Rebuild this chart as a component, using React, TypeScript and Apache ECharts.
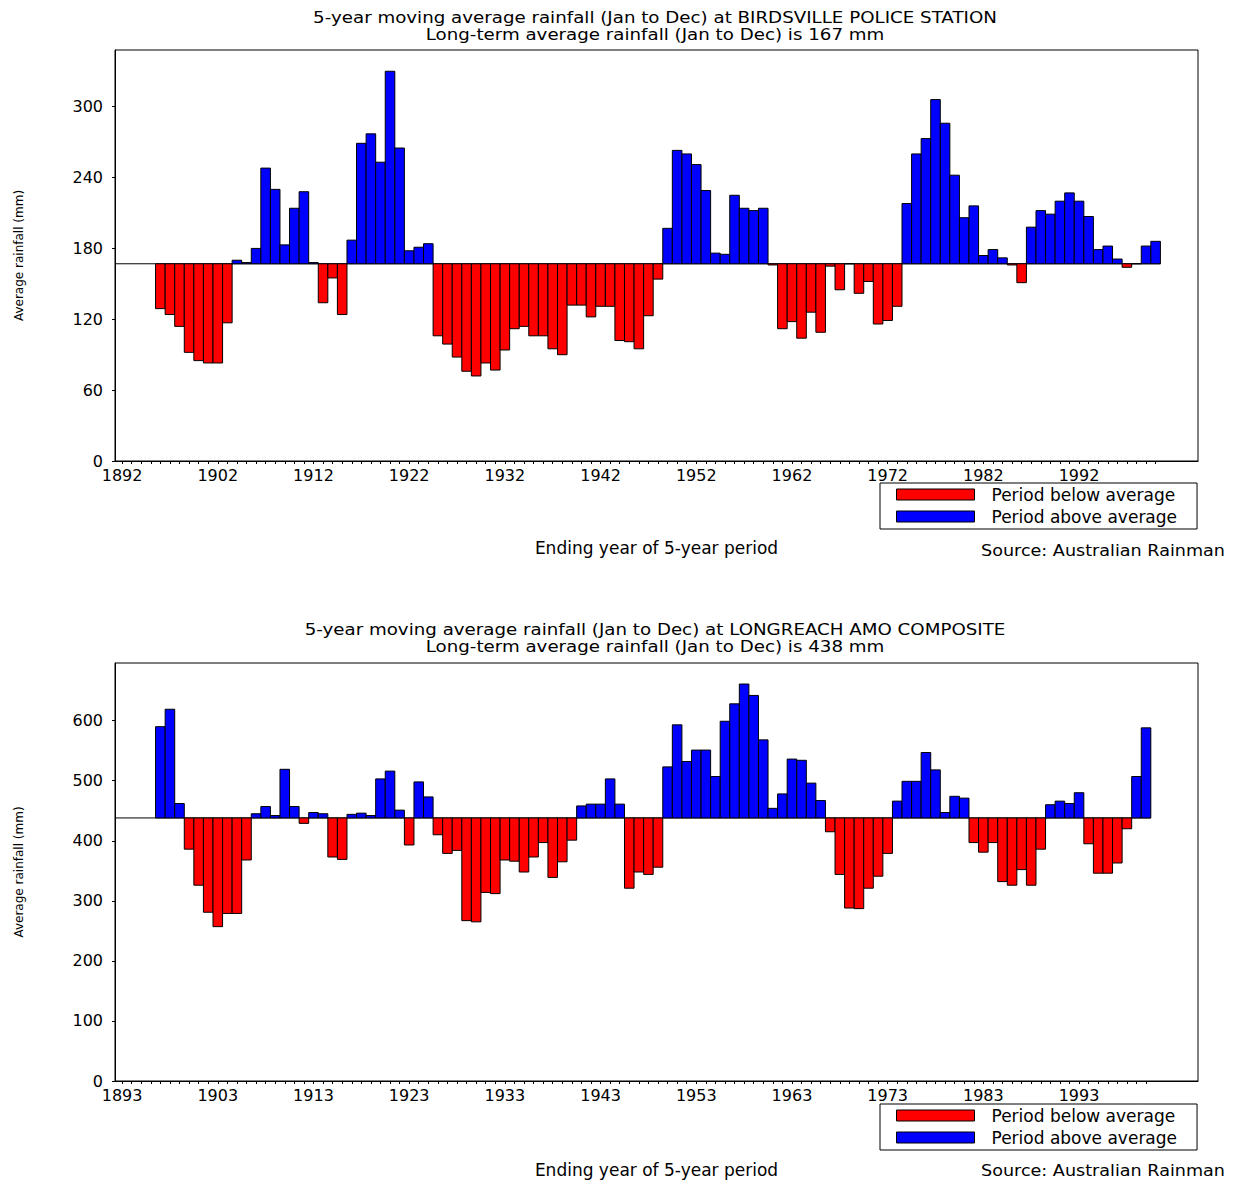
import React, { useEffect, useRef } from 'react';
import * as echarts from 'echarts';

// ---------- DATA ----------
const TOP_TITLE = '5-year moving average rainfall (Jan to Dec) at BIRDSVILLE POLICE STATION';
const TOP_SUBTITLE = 'Long-term average rainfall (Jan to Dec) is 167 mm';
const TOP_AVG = 167;
const TOP_FIRST_YEAR = 1896;
const TOP_VALUES = [
  129, 124, 114, 92, 85, 83, 83, 117, 170, 168,
  180, 248, 230, 183, 214, 228, 168, 134, 155, 124,
  187, 269, 277, 253, 330, 265, 178, 181, 184, 106,
  99, 88, 76, 72, 83, 77, 94, 112, 114, 106,
  106, 95, 90, 132, 132, 122, 131, 131, 102, 101,
  95, 123, 154, 197, 263, 260, 251, 229, 176, 175,
  225, 214, 212, 214, 166, 112, 118, 104, 126, 109,
  165, 145, 167, 142, 152, 116, 119, 131, 218, 260,
  273, 306, 286, 242, 206, 216, 174, 179, 172, 166,
  151, 198, 212, 209, 220, 227, 220, 207, 179, 182,
  171, 164, 167, 182, 186,
];
const TOP_X_LABELS = [1892, 1902, 1912, 1922, 1932, 1942, 1952, 1962, 1972, 1982, 1992];
const TOP_Y_TICKS = [0, 60, 120, 180, 240, 300];

const BOTTOM_TITLE = '5-year moving average rainfall (Jan to Dec) at LONGREACH AMO COMPOSITE';
const BOTTOM_SUBTITLE = 'Long-term average rainfall (Jan to Dec) is 438 mm';
const BOTTOM_AVG = 438;
const BOTTOM_FIRST_YEAR = 1897;
const BOTTOM_VALUES = [
  590, 619, 462, 386, 326, 281, 257, 279, 279, 368,
  445, 457, 442, 519, 457, 429, 447, 445, 373, 369,
  444, 446, 442, 503, 516, 451, 393, 498, 473, 410,
  379, 384, 267, 265, 314, 312, 368, 366, 348, 373,
  397, 339, 365, 401, 458, 461, 461, 503, 461, 321,
  348, 344, 356, 523, 593, 532, 551, 551, 507, 599,
  628, 661, 642, 568, 454, 478, 536, 534, 496, 467,
  415, 344, 288, 287, 321, 341, 379, 466, 499, 499,
  547, 518, 447, 474, 471, 397, 381, 397, 332, 326,
  352, 326, 386, 460, 466, 462, 480, 395, 346, 346,
  363, 420, 507, 588,
];
const BOTTOM_X_LABELS = [1893, 1903, 1913, 1923, 1933, 1943, 1953, 1963, 1973, 1983, 1993];
const BOTTOM_Y_TICKS = [0, 100, 200, 300, 400, 500, 600];

const BELOW_NAME = 'Period below average';
const ABOVE_NAME = 'Period above average';
const X_NAME = 'Ending year of 5-year period';
const Y_NAME = 'Average rainfall (mm)';
const SOURCE = 'Source: Australian Rainman';

// ---------- HELPERS ----------
const FONT = 'DejaVu Sans';

function pairs(first: number, values: number[]) {
  return values.map((v, i) => [first + i, v]);
}

function yearRange(a: number, b: number) {
  const out: number[] = [];
  for (let y = a; y <= b; y++) out.push(y);
  return out;
}

function makeRender(avg: number) {
  return (params: any, api: any) => {
    const x = api.value(0);
    const v = api.value(1);
    const p0 = api.coord([x - 0.5, avg]);
    const p1 = api.coord([x + 0.5, v]);
    return {
      type: 'rect',
      shape: {
        x: p0[0],
        y: Math.min(p0[1], p1[1]),
        width: p1[0] - p0[0],
        height: Math.abs(p1[1] - p0[1]),
      },
      style: { fill: api.visual('color'), stroke: '#000', lineWidth: 1 },
    };
  };
}

function splitData(first: number, values: number[], avg: number) {
  const data = pairs(first, values);
  const below = data.filter((d) => d[1] < avg);
  const above = data.filter((d) => d[1] >= avg);
  const last = first + values.length - 1;
  return { below, above, last };
}

export default function App() {
  const ref = useRef<HTMLDivElement>(null);

  useEffect(() => {
    if (!ref.current) return;
    const chart = echarts.init(ref.current, undefined, { renderer: 'svg' });

    const top = splitData(TOP_FIRST_YEAR, TOP_VALUES, TOP_AVG);
    const bot = splitData(BOTTOM_FIRST_YEAR, BOTTOM_VALUES, BOTTOM_AVG);

    const topMin = 1891.26;
    const topMax = 2004.43;
    const botMin = 1892.26;
    const botMax = 2005.43;

    const xAxisCommon = (min: number, max: number, labels: number[], ticks: number[], gap: number) => ({
      type: 'value',
      min,
      max,
      name: X_NAME,
      nameLocation: 'middle',
      nameGap: gap,
      nameTextStyle: { fontSize: 17, color: '#000', fontFamily: FONT },
      axisLine: { show: true, lineStyle: { color: '#000', width: 1 } },
      axisTick: { show: true, inside: false, length: 3, lineStyle: { color: '#000' }, customValues: ticks },
      axisLabel: { show: true, margin: 6, fontSize: 16, color: '#000', fontFamily: FONT, customValues: labels, formatter: (v: number) => String(Math.round(v)) },
      splitLine: { show: false },
    });

    const yAxisCommon = (max: number, ticks: number[]) => ({
      type: 'value',
      min: 0,
      max,
      name: Y_NAME,
      nameLocation: 'middle',
      nameGap: 90,
      nameRotate: 90,
      nameTextStyle: { fontSize: 12, color: '#000', fontFamily: FONT },
      axisLine: { show: true, lineStyle: { color: '#000', width: 1 } },
      axisTick: { show: true, inside: false, length: 3, lineStyle: { color: '#000' }, customValues: ticks },
      axisLabel: { show: true, margin: 12, fontSize: 16, color: '#000', fontFamily: FONT, customValues: ticks },
      splitLine: { show: false },
    });

    const legendCommon = (topPx: number) => ({
      show: true,
      left: 880,
      top: topPx,
      orient: 'vertical',
      data: [BELOW_NAME, ABOVE_NAME],
      icon: 'rect',
      itemWidth: 78,
      itemHeight: 11,
      itemGap: 5,
      selectedMode: false,
      backgroundColor: '#fff',
      borderColor: '#000',
      borderWidth: 1,
      padding: [3, 20, 4, 16],
      itemStyle: { borderColor: '#000', borderWidth: 1 },
      textStyle: { fontSize: 17, color: '#000', fontFamily: FONT, padding: [0, 0, 0, 12] },
    });

    const barSeries = (name: string, color: string, data: number[][], avg: number, axisIdx: number) => ({
      type: 'custom',
      name,
      xAxisIndex: axisIdx,
      yAxisIndex: axisIdx,
      itemStyle: { color },
      encode: { x: 0, y: 1 },
      data,
      z: 3,
      renderItem: makeRender(avg),
    });

    const baseLine = (min: number, last: number, avg: number, axisIdx: number) => ({
      type: 'line',
      name: 'baseline',
      xAxisIndex: axisIdx,
      yAxisIndex: axisIdx,
      data: [[min, avg], [last + 0.5, avg]],
      symbol: 'none',
      silent: true,
      z: 2,
      lineStyle: { color: '#000', width: 1 },
    });

    const textEl = (x: number, y: number, text: string, size: number, align: string, sx: number) => ({
      type: 'text',
      x,
      y,
      scaleX: sx,
      silent: true,
      style: { text, fontSize: size, fontFamily: FONT, fill: '#000', align, verticalAlign: 'middle' },
    });

    chart.setOption({
      animation: false,
      backgroundColor: '#fff',
      textStyle: { fontFamily: FONT },
      grid: [
        { left: 115, top: 50, width: 1083, height: 411, show: true, borderColor: '#000', borderWidth: 1, backgroundColor: 'transparent' },
        { left: 115, top: 663, width: 1083, height: 418, show: true, borderColor: '#000', borderWidth: 1, backgroundColor: 'transparent' },
      ],
      xAxis: [
        { ...xAxisCommon(topMin, topMax, TOP_X_LABELS, yearRange(1892, top.last), 78), gridIndex: 0 },
        { ...xAxisCommon(botMin, botMax, BOTTOM_X_LABELS, yearRange(1893, bot.last), 80), gridIndex: 1 },
      ],
      yAxis: [
        { ...yAxisCommon(348, TOP_Y_TICKS), gridIndex: 0 },
        { ...yAxisCommon(696, BOTTOM_Y_TICKS), gridIndex: 1 },
      ],
      legend: [legendCommon(483), legendCommon(1104)],
      series: [
        baseLine(topMin, top.last, TOP_AVG, 0),
        barSeries(BELOW_NAME, '#ff0000', top.below, TOP_AVG, 0),
        barSeries(ABOVE_NAME, '#0000ff', top.above, TOP_AVG, 0),
        baseLine(botMin, bot.last, BOTTOM_AVG, 1),
        barSeries(BELOW_NAME, '#ff0000', bot.below, BOTTOM_AVG, 1),
        barSeries(ABOVE_NAME, '#0000ff', bot.above, BOTTOM_AVG, 1),
      ],
      graphic: [
        textEl(655, 17, TOP_TITLE, 16, 'center', 1.14),
        textEl(655, 34, TOP_SUBTITLE, 16, 'center', 1.14),
        textEl(1225, 550, SOURCE, 16, 'right', 1.1),
        textEl(655, 629, BOTTOM_TITLE, 16, 'center', 1.14),
        textEl(655, 646, BOTTOM_SUBTITLE, 16, 'center', 1.14),
        textEl(1225, 1170, SOURCE, 16, 'right', 1.1),
      ],
    });

    return () => chart.dispose();
  }, []);

  return (
    <div
      ref={ref}
      style={{ position: 'absolute', left: 0, top: 0, width: 1239, height: 1180, background: '#fff' }}
    />
  );
}
